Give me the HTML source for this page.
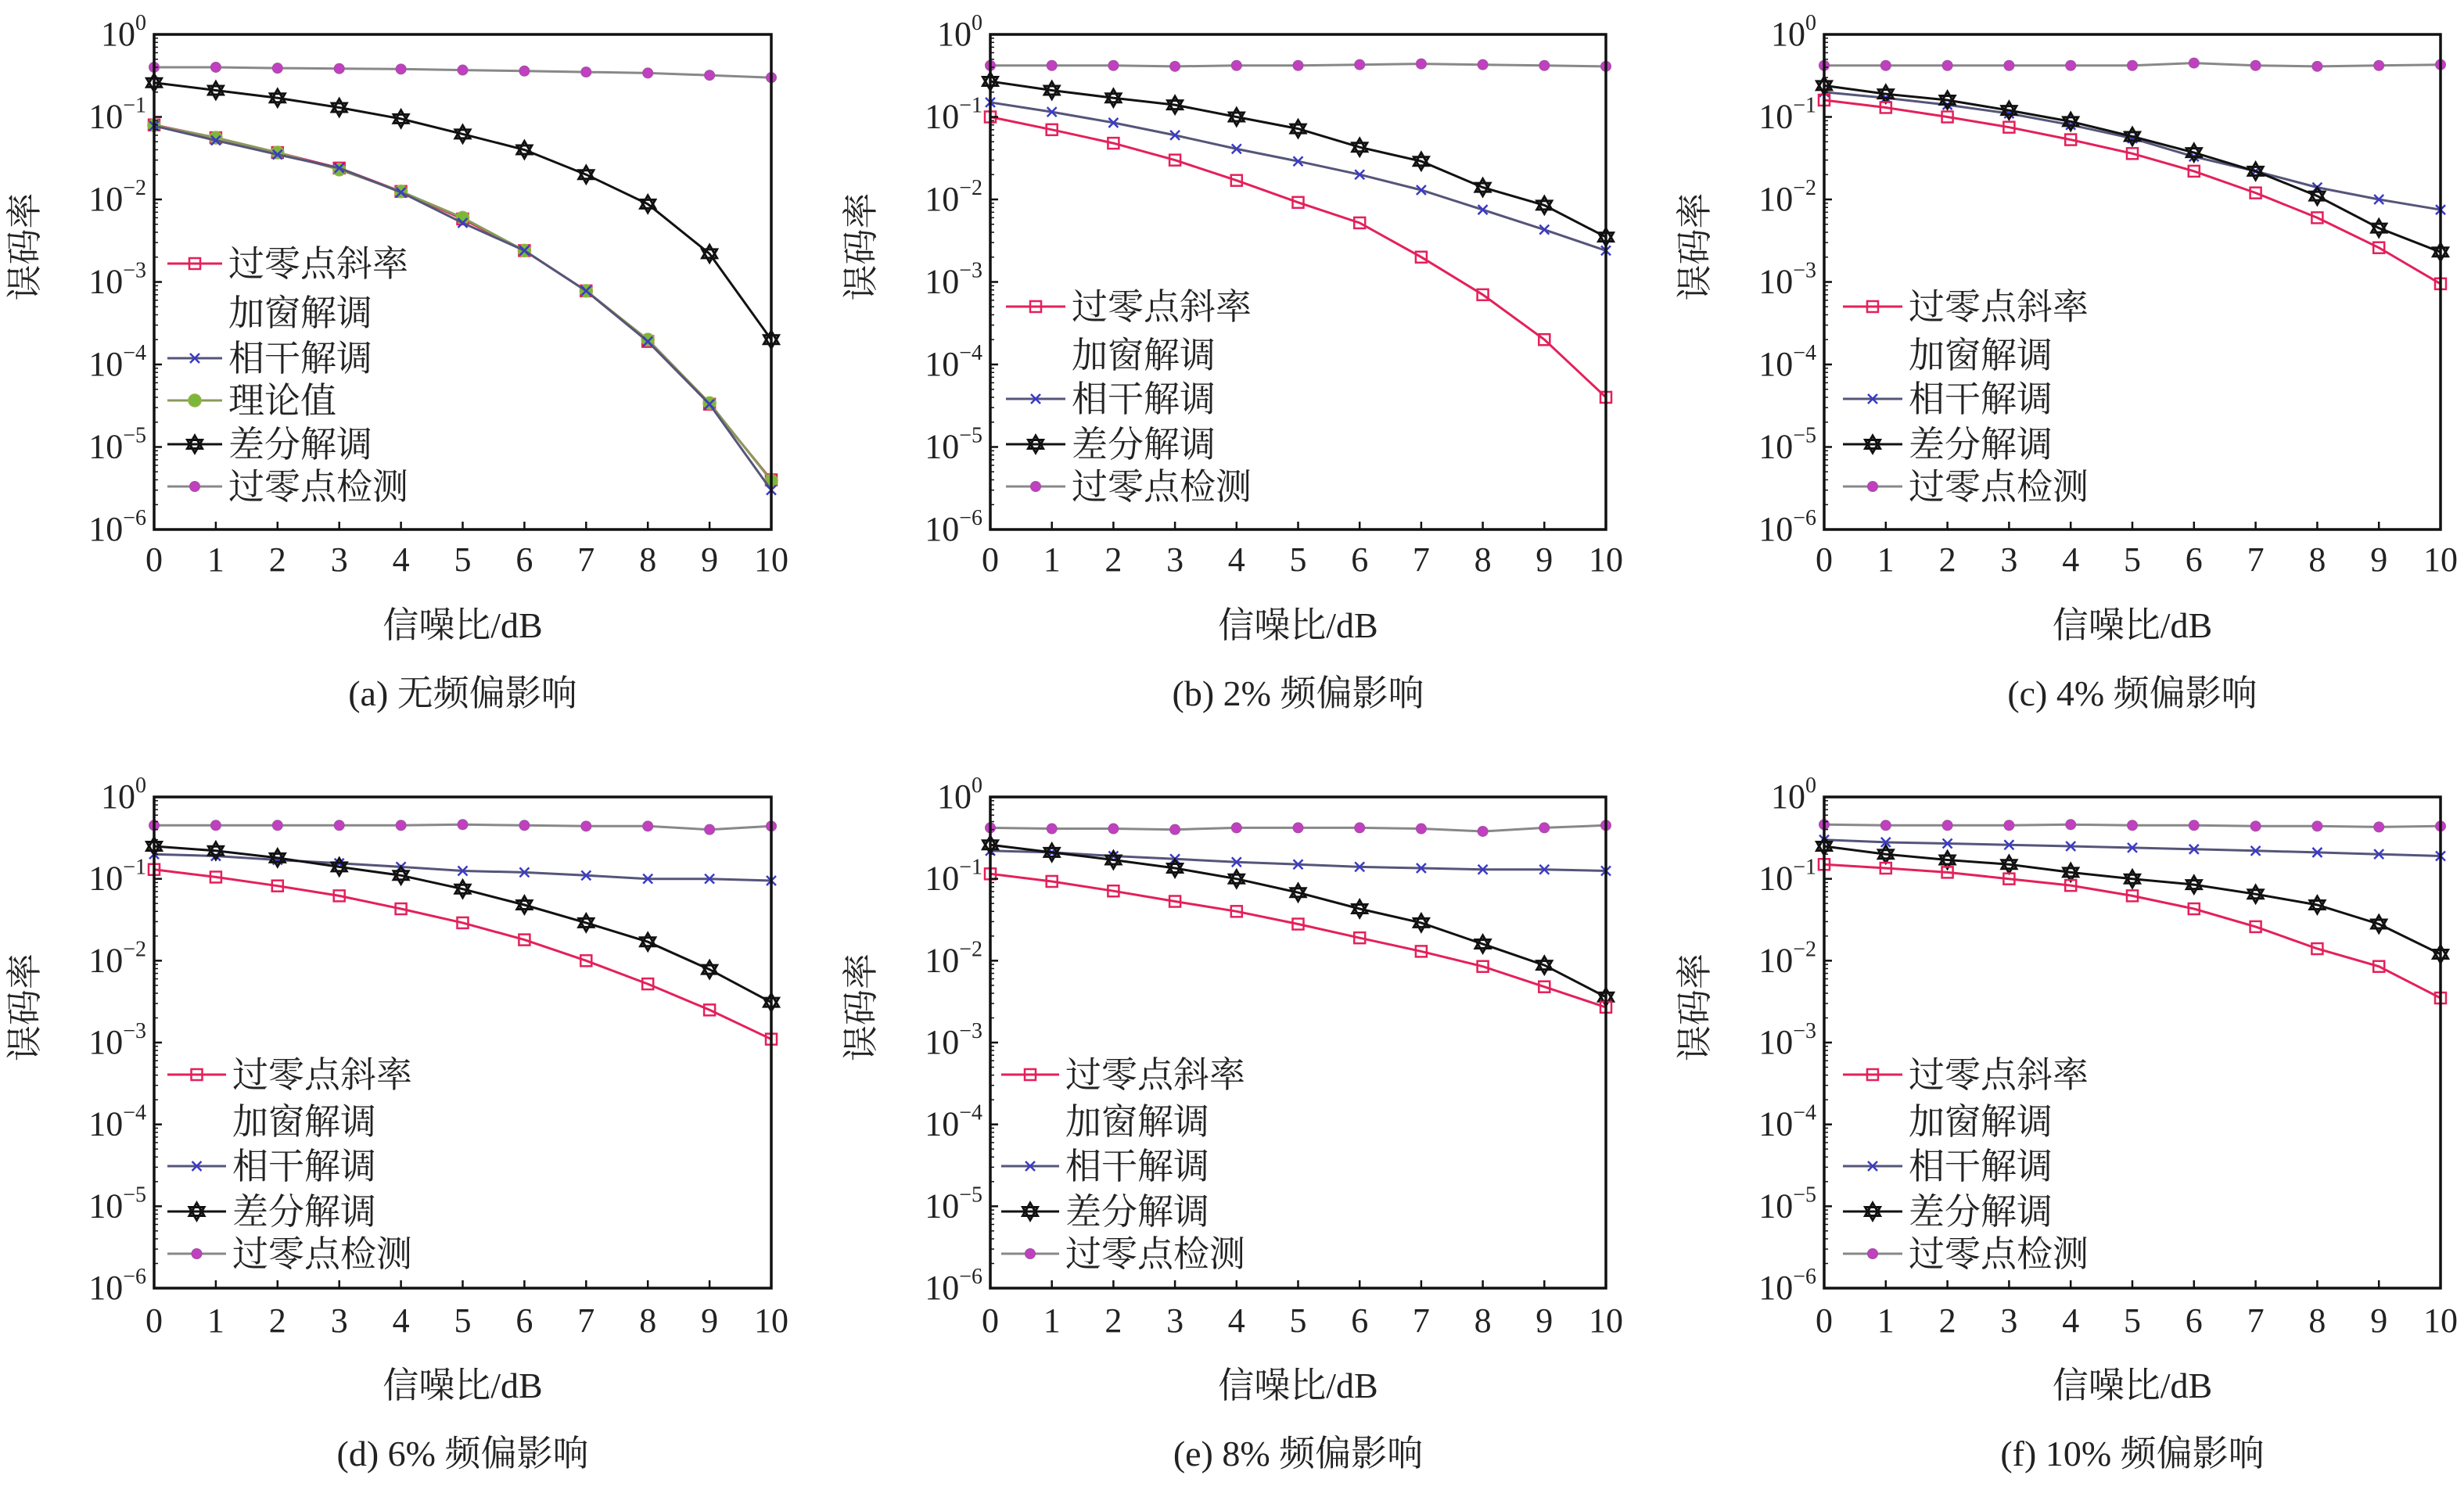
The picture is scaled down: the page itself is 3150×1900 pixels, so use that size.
<!DOCTYPE html>
<html><head><meta charset="utf-8"><style>
html,body{margin:0;padding:0;background:#fff;}
svg{display:block;font-family:"Liberation Serif","Noto Serif CJK SC",serif;}
</style></head><body>
<svg id="fig" width="3150" height="1900" viewBox="0 0 3150 1900" xmlns="http://www.w3.org/2000/svg"></svg>
<script>
const snr = [0,1,2,3,4,5,6,7,8,9,10];
const yTickExps = [0,-1,-2,-3,-4,-5,-6];
const captions = ["(a)  无频偏影响","(b)  2% 频偏影响","(c)  4% 频偏影响","(d)  6% 频偏影响","(e)  8% 频偏影响","(f)  10% 频偏影响"];
const legendLabels = ["过零点斜率","加窗解调","相干解调","理论值","差分解调","过零点检测"];
// panel a
const aSlope = [0.08,0.056,0.037,0.024,0.0125,0.0058,0.0024,0.00078,0.00019,3.3e-5,4e-6];
const aCoh = [0.078,0.052,0.035,0.024,0.0122,0.0052,0.0024,0.00078,0.00019,3.3e-5,3e-6];
const aTheory = [0.079,0.056,0.037,0.023,0.0125,0.006,0.0024,0.00078,0.0002,3.4e-5,3.9e-6];
const aDiff = [0.26,0.21,0.17,0.13,0.095,0.062,0.04,0.02,0.0088,0.0022,0.0002];
const aZero = [0.4,0.4,0.39,0.385,0.38,0.37,0.36,0.35,0.34,0.32,0.3];
// panel b
const bSlope = [0.1,0.07,0.048,0.03,0.017,0.0092,0.0052,0.002,0.0007,0.0002,4e-5];
const bCoh = [0.15,0.115,0.085,0.06,0.041,0.029,0.02,0.013,0.0075,0.0043,0.0024];
const bDiff = [0.27,0.21,0.17,0.14,0.1,0.072,0.043,0.029,0.014,0.0085,0.0035];
const bZero = [0.42,0.42,0.42,0.41,0.42,0.42,0.43,0.44,0.43,0.42,0.41];
// panel c
const cSlope = [0.16,0.13,0.1,0.075,0.053,0.036,0.022,0.012,0.006,0.0026,0.00095];
const cCoh = [0.2,0.17,0.14,0.11,0.08,0.055,0.033,0.022,0.014,0.01,0.0075];
const cDiff = [0.24,0.19,0.16,0.12,0.088,0.058,0.037,0.022,0.011,0.0045,0.0023];
const cZero = [0.42,0.42,0.42,0.42,0.42,0.42,0.45,0.42,0.41,0.42,0.43];
// panel d
const dSlope = [0.13,0.105,0.082,0.062,0.043,0.029,0.018,0.01,0.0052,0.0025,0.0011];
const dCoh = [0.2,0.19,0.17,0.155,0.14,0.125,0.12,0.11,0.1,0.1,0.095];
const dDiff = [0.25,0.22,0.18,0.14,0.11,0.075,0.048,0.029,0.017,0.0078,0.0031];
const dZero = [0.45,0.45,0.45,0.45,0.45,0.46,0.45,0.44,0.44,0.4,0.44];
// panel e
const eSlope = [0.115,0.093,0.071,0.053,0.04,0.028,0.019,0.013,0.0085,0.0048,0.0027];
const eCoh = [0.22,0.21,0.19,0.175,0.16,0.15,0.14,0.135,0.13,0.13,0.125];
const eDiff = [0.26,0.21,0.17,0.135,0.1,0.068,0.043,0.029,0.016,0.0088,0.0036];
const eZero = [0.42,0.41,0.41,0.4,0.42,0.42,0.42,0.41,0.38,0.42,0.45];
// panel f
const fSlope = [0.15,0.135,0.12,0.1,0.083,0.062,0.043,0.026,0.014,0.0085,0.0035];
const fCoh = [0.3,0.28,0.27,0.26,0.25,0.24,0.23,0.22,0.21,0.2,0.19];
const fDiff = [0.25,0.2,0.17,0.15,0.12,0.1,0.085,0.065,0.048,0.028,0.012];
const fZero = [0.46,0.45,0.45,0.45,0.46,0.45,0.45,0.44,0.44,0.43,0.44];

const NS = "http://www.w3.org/2000/svg";
const svg = document.getElementById('fig');
function el(tag, attrs, parent){ const e=document.createElementNS(NS,tag); for(const k in attrs) e.setAttribute(k,attrs[k]); (parent||svg).appendChild(e); return e; }

const cols=[{x0:197,x1:986},{x0:1266,x1:2053},{x0:2332,x1:3120}];
const rows=[{y0:44,y1:677,lab:715,xl:800,cap:886},{y0:1019,y1:1647,lab:1688,xl:1772,cap:1858}];
const legendPos=[
 {lx:214,tx:292,ys:[337,400,458,512,568,622]},
 {lx:1286,tx:1370,ys:[392,454,510,-1,568,622]},
 {lx:2356,tx:2440,ys:[392,454,510,-1,568,622]},
 {lx:214,tx:297,ys:[1374,1434,1491,-1,1549,1603]},
 {lx:1280,tx:1362,ys:[1374,1434,1491,-1,1549,1603]},
 {lx:2356,tx:2440,ys:[1374,1434,1491,-1,1549,1603]}];
const styles={
 slope:{line:"#e4205a",mk:"square",mc:"#e4205a"},
 coh:{line:"#55557a",mk:"x",mc:"#3a3ac8"},
 theory:{line:"#8a9a5a",mk:"circle",mc:"#7ab83a"},
 diff:{line:"#111",mk:"star",mc:"#111"},
 zero:{line:"#888",mk:"dot",mc:"#c040c0"}};
const panels=[
 {series:[["zero",aZero],["slope",aSlope],["theory",aTheory],["coh",aCoh],["diff",aDiff]],theory:true},
 {series:[["zero",bZero],["coh",bCoh],["diff",bDiff],["slope",bSlope]]},
 {series:[["zero",cZero],["coh",cCoh],["diff",cDiff],["slope",cSlope]]},
 {series:[["zero",dZero],["coh",dCoh],["diff",dDiff],["slope",dSlope]]},
 {series:[["zero",eZero],["coh",eCoh],["diff",eDiff],["slope",eSlope]]},
 {series:[["zero",fZero],["coh",fCoh],["diff",fDiff],["slope",fSlope]]}];

function marker(g,type,x,y,st){
  const c=st.mc;
  if(type==="square") el('rect',{x:x-7,y:y-7,width:14,height:14,fill:"none",stroke:c,'stroke-width':2.5},g);
  else if(type==="x"){ el('path',{d:`M${x-6},${y-6}L${x+6},${y+6}M${x-6},${y+6}L${x+6},${y-6}`,stroke:c,'stroke-width':2.5},g); }
  else if(type==="circle") el('circle',{cx:x,cy:y,r:8,fill:c,stroke:"#9ab040",'stroke-width':1.5},g);
  else if(type==="dot") el('circle',{cx:x,cy:y,r:6.5,fill:c,stroke:"#a050a0",'stroke-width':1},g);
  else if(type==="star"){
    const r=11,pts1=[],pts2=[];
    for(let i=0;i<3;i++){const a=-Math.PI/2+i*2*Math.PI/3; pts1.push((x+r*Math.cos(a)).toFixed(1)+","+(y+r*Math.sin(a)).toFixed(1)); const b=Math.PI/2+i*2*Math.PI/3; pts2.push((x+r*Math.cos(b)).toFixed(1)+","+(y+r*Math.sin(b)).toFixed(1));}
    el('polygon',{points:pts1.join(" "),fill:"none",stroke:c,'stroke-width':3},g);
    el('polygon',{points:pts2.join(" "),fill:"none",stroke:c,'stroke-width':3},g);
  }
}

panels.forEach((p,i)=>{
  const col=cols[i%3], row=rows[Math.floor(i/3)];
  const g=el('g',{});
  
  
  const xs=v=>col.x0+(v-snr[0])/(snr[snr.length-1]-snr[0])*(col.x1-col.x0);
  const ys=v=>row.y0+(Math.log10(v)-0)/(-6)*(row.y1-row.y0);
  // series
  p.series.forEach(([key,vals])=>{
    const st=styles[key];
    const sg=el('g',{},g);
    
    
    el('polyline',{points:vals.map((v,k)=>xs(snr[k]).toFixed(1)+","+ys(v).toFixed(1)).join(" "),fill:"none",stroke:st.line,'stroke-width':3},sg);
    vals.forEach((v,k)=>marker(sg,st.mk,xs(snr[k]),ys(v),st));
  });
  // axes box
  const box=el('rect',{x:col.x0,y:row.y0,width:col.x1-col.x0,height:row.y1-row.y0,fill:"none",stroke:"#111",'stroke-width':3.5},g);
  
  
  // x ticks
  snr.forEach(v=>{
    const x=xs(v);
    el('line',{x1:x,y1:row.y1,x2:x,y2:row.y1-10,stroke:"#111",'stroke-width':2.5},g);
    const t=el('text',{x:x,y:row.lab+15,'font-size':44,'text-anchor':'middle',fill:"#222"},g);
    t.textContent=v;
    
    
  });
  // y ticks
  yTickExps.forEach(e=>{
    const y=ys(Math.pow(10,e));
    el('line',{x1:col.x0,y1:y,x2:col.x0+10,y2:y,stroke:"#111",'stroke-width':2.5},g);
    if(e>-6){ for(let m=2;m<10;m++){ const yy=ys(m*Math.pow(10,e-1)); el('line',{x1:col.x0,y1:yy,x2:col.x0+5,y2:yy,stroke:"#111",'stroke-width':1.5},g);} }
    const t=el('text',{x:col.x0-10,y:y+14,'font-size':44,'text-anchor':'end',fill:"#222"},g);
    
    
    const t1=el('tspan',{},t); t1.textContent="10";
    const t2=el('tspan',{dy:-20,'font-size':28},t); t2.textContent=(e===0?"0":"−"+(-e));
  });
  // y label
  const yc=(row.y0+row.y1)/2-45;
  const yl=el('text',{x:0,y:0,'font-size':46,'text-anchor':'middle',fill:"#222",transform:`translate(${col.x0-150},${yc}) rotate(-90)`},g);
  yl.textContent="误码率";
  
  
  const xl=el('text',{x:(col.x0+col.x1)/2,y:row.xl+15,'font-size':46,'text-anchor':'middle',fill:"#222"},g);
  xl.textContent="信噪比/dB";
  
  
  const cp=el('text',{x:(col.x0+col.x1)/2,y:row.cap+16,'font-size':46,'text-anchor':'middle',fill:"#222"},g);
  cp.textContent=captions[i];
  
  
  // legend
  const lp=legendPos[i];
  const keys=["slope",null,"coh","theory","diff","zero"];
  keys.forEach((k,j)=>{
    const y=lp.ys[j]; if(y<0) return;
    const lg=el('g',{},g);
    
    
    if(k){ const st=styles[k]; el('line',{x1:lp.lx,y1:y,x2:lp.tx-8,y2:y,stroke:st.line,'stroke-width':3},lg); marker(lg,st.mk,(lp.lx+lp.tx-8)/2,y,st); }
    const t=el('text',{x:lp.tx,y:y+16,'font-size':46,fill:"#222"},lg);
    t.textContent=legendLabels[j];
  });
});
</script>
</body></html>
